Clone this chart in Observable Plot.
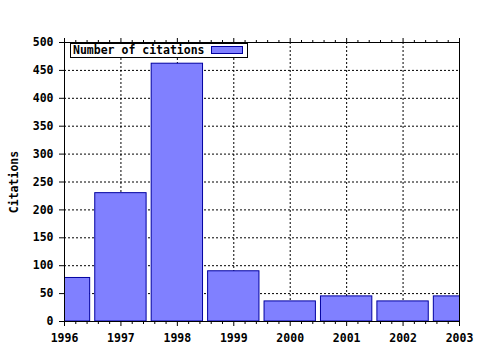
<!DOCTYPE html>
<html>
<head>
<meta charset="utf-8">
<script src="https://cdn.jsdelivr.net/npm/d3@7"></script>
<script src="https://cdn.jsdelivr.net/npm/@observablehq/plot@0.6"></script>
<style>
  html, body { margin: 0; padding: 0; background: white; }
  #wrap { position: relative; width: 480px; height: 350px; }
  #legend {
    position: absolute; left: 70px; top: 43px; width: 176px; height: 13px;
    border: 1px solid black; background: white;
    font-family: "DejaVu Sans Mono", monospace; font-weight: bold; font-size: 11.5px;
    line-height: 13px; color: black;
  }
  #legend .lbl { position: absolute; left: 2px; top: 0px; }
  #legend .sw { position: absolute; left: 140px; top: 2px; width: 30px; height: 6px;
    background: #8080ff; border: 1px solid #0000a0; }
</style>
</head>
<body>
<div id="wrap">
  <div id="chart"></div>
  <div id="legend"><span class="lbl">Number of citations</span><span class="sw"></span></div>
</div>
<script>
const years = [1996, 1997, 1998, 1999, 2000, 2001, 2002, 2003];
const citations = [78, 230, 462, 90, 36, 45, 36, 45];
const yTicks = [0, 50, 100, 150, 200, 250, 300, 350, 400, 450, 500];
const seriesName = "Number of citations";
const yLabel = "Citations";

const data = years.map((y, i) => ({year: y, value: citations[i]}));
const minor = d3.range(0, 36).map(i => 1996 + i * 0.2).filter(v => Math.abs(v - Math.round(v)) > 1e-6);
const halfW = 0.455;

const chart = Plot.plot({
  width: 480, height: 350,
  marginLeft: 64, marginRight: 21, marginTop: 42, marginBottom: 29,
  x: {domain: [1996, 2003]},
  y: {domain: [0, 500]},
  style: {fontFamily: "DejaVu Sans Mono", fontSize: "11.5px", fontWeight: "bold", color: "black", background: "white"},
  marks: [
    Plot.gridY(yTicks.filter(v => v > 0 && v < 500), {stroke: "black", strokeOpacity: 1, strokeDasharray: "2,2"}),
    Plot.gridX(years.filter(v => v > 1996 && v < 2003), {stroke: "black", strokeOpacity: 1, strokeDasharray: "2,2"}),
    Plot.rectY(data, {x1: d => d.year - halfW, x2: d => d.year + halfW, y: "value", fill: "#8080ff", stroke: "#0000a0", strokeWidth: 1, clip: true}),
    Plot.frame({stroke: "black"}),
    Plot.axisY({ticks: yTicks, tickSize: 5, tickPadding: 6, tickFormat: d => String(d), label: yLabel, labelAnchor: "center", labelArrow: "none", labelOffset: 55}),
    Plot.axisX({ticks: years, tickSize: 5, tickPadding: 7, tickFormat: d => String(d), label: null}),
    Plot.axisX({ticks: minor, tickSize: 3, tickFormat: () => "", label: null}),
    Plot.axisX({anchor: "top", ticks: years, tickSize: 5, tickFormat: () => "", label: null}),
    Plot.axisX({anchor: "top", ticks: minor, tickSize: 3, tickFormat: () => "", label: null})
  ]
});
document.getElementById("chart").appendChild(chart);
</script>
</body>
</html>
